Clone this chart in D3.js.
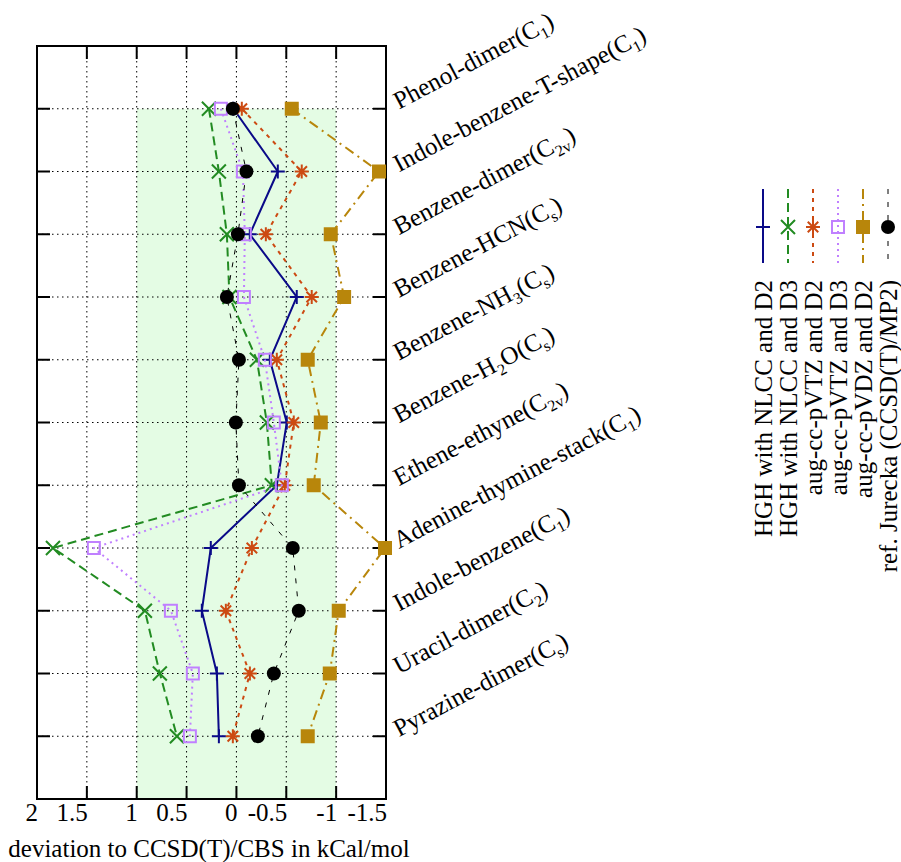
<!DOCTYPE html>
<html>
<head>
<meta charset="utf-8">
<script src="https://cdn.jsdelivr.net/npm/d3@7"></script>
<style>
  body { margin: 0; background: #fff; }
  svg { display: block; font-family: "Liberation Serif", "DejaVu Serif", serif; }
</style>
</head>
<body>
<svg id="chart" width="901" height="862"></svg>
<script>
// row labels, top to bottom; _{..} marks a subscript
const categories = [
    "Phenol-dimer(C_{1})",
    "Indole-benzene-T-shape(C_{1})",
    "Benzene-dimer(C_{2v})",
    "Benzene-HCN(C_{s})",
    "Benzene-NH_{3}(C_{s})",
    "Benzene-H_{2}O(C_{s})",
    "Ethene-ethyne(C_{2v})",
    "Adenine-thymine-stack(C_{1})",
    "Indole-benzene(C_{1})",
    "Uracil-dimer(C_{2})",
    "Pyrazine-dimer(C_{s})"
];

const hghD2   = [0.03, -0.415, -0.134, -0.605, -0.335, -0.505, -0.405, 0.257, 0.347, 0.196, 0.176];
const hghD3   = [0.276, 0.176, 0.096, 0.07, -0.205, -0.305, -0.355, 1.84, 0.918, 0.768, 0.597];
const tzD2    = [-0.054, -0.655, -0.295, -0.755, -0.405, -0.575, -0.485, -0.155, 0.106, -0.135, 0.036];
const tzD3    = [0.156, -0.065, -0.084, -0.075, -0.285, -0.375, -0.455, 1.43, 0.657, 0.437, 0.467];
const dzD2    = [-0.555, -1.43, -0.946, -1.08, -0.715, -0.846, -0.775, -1.49, -1.026, -0.936, -0.715];
const jurecka = [0.036, -0.10, -0.015, 0.096, -0.025, 0.006, -0.025, -0.565, -0.625, -0.375, -0.215];

const xTicks = [2, 1.5, 1, 0.5, 0, -0.5, -1, -1.5];
const band = [1, -1];

const seriesNames = [
    "HGH with NLCC and D2",
    "HGH with NLCC and D3",
    "aug-cc-pVTZ and D2",
    "aug-cc-pVTZ and D3",
    "aug-cc-pVDZ and D2",
    "ref. Jurecka (CCSD(T)/MP2)"
];

const series = [
    { name: seriesNames[0], values: hghD2,   color: "#0a0a88", dash: null,         width: 2,   marker: "plus" },
    { name: seriesNames[1], values: hghD3,   color: "#228b22", dash: "9,5",        width: 2,   marker: "cross" },
    { name: seriesNames[2], values: tzD2,    color: "#cc4a12", dash: "4,5",        width: 2,   marker: "star" },
    { name: seriesNames[3], values: tzD3,    color: "#c080ff", dash: "2,4",        width: 2,   marker: "box" },
    { name: seriesNames[4], values: dzD2,    color: "#b8860b", dash: "10,5,2,5",   width: 2,   marker: "fbox" },
    { name: seriesNames[5], values: jurecka, color: "#000000", dash: "5,8",        width: 1,   marker: "circle" }
];

const FONT = 25;
const SUB = 16;

const svg = d3.select("#chart");
const margin = { left: 37, right: 386, top: 46, bottom: 799 };

const x = d3.scaleLinear().domain([2, -1.5]).range([margin.left, margin.right]);
const y = d3.scaleLinear().domain([0, 12]).range([margin.top, margin.bottom]);
const rows = d3.range(1, categories.length + 1);

// light green band between +1 and -1
svg.append("rect")
    .attr("x", x(band[0]))
    .attr("y", y(1))
    .attr("width", x(band[1]) - x(band[0]))
    .attr("height", y(12) - y(1))
    .attr("fill", "#e4fce4");

// dotted grid
const grid = svg.append("g")
    .attr("stroke", "#000")
    .attr("stroke-width", 1)
    .attr("stroke-dasharray", "1.5,3.5");
xTicks.slice(1, -1).forEach(t => {
    grid.append("line")
        .attr("x1", x(t)).attr("x2", x(t))
        .attr("y1", margin.top).attr("y2", margin.bottom);
});
rows.forEach(r => {
    grid.append("line")
        .attr("x1", margin.left).attr("x2", margin.right)
        .attr("y1", y(r)).attr("y2", y(r));
});

// frame and inward ticks
const axes = svg.append("g").attr("stroke", "#000").attr("stroke-width", 2).attr("fill", "none");
axes.append("rect")
    .attr("x", margin.left).attr("y", margin.top)
    .attr("width", margin.right - margin.left)
    .attr("height", margin.bottom - margin.top);
const tickLen = 13;
xTicks.forEach(t => {
    axes.append("line").attr("x1", x(t)).attr("x2", x(t))
        .attr("y1", margin.bottom).attr("y2", margin.bottom - tickLen);
    axes.append("line").attr("x1", x(t)).attr("x2", x(t))
        .attr("y1", margin.top).attr("y2", margin.top + tickLen);
});
rows.forEach(r => {
    axes.append("line").attr("x1", margin.left).attr("x2", margin.left + tickLen)
        .attr("y1", y(r)).attr("y2", y(r));
    axes.append("line").attr("x1", margin.right).attr("x2", margin.right - tickLen)
        .attr("y1", y(r)).attr("y2", y(r));
});

// x tick labels, right-aligned on the tick
svg.append("g")
    .attr("font-size", FONT)
    .attr("text-anchor", "end")
    .selectAll("text")
    .data(xTicks)
    .join("text")
    .attr("x", d => x(d) + 1)
    .attr("y", 821)
    .text(d => String(d));

svg.append("text")
    .attr("x", 209)
    .attr("y", 857)
    .attr("font-size", FONT)
    .attr("text-anchor", "middle")
    .text("deviation to CCSD(T)/CBS in kCal/mol");

// text with _{sub} parts
function richText(sel, label) {
    const parts = label.split(/(_\{[^}]*\})/).filter(p => p.length);
    parts.forEach(p => {
        if (p.startsWith("_{")) {
            sel.append("tspan").attr("font-size", SUB).attr("dy", 6).text(p.slice(2, -1));
            sel.append("tspan").attr("font-size", FONT).attr("dy", -6).text("\u200b");
        } else {
            sel.append("tspan").text(p);
        }
    });
}

// rotated row labels
categories.forEach((c, i) => {
    const t = svg.append("text")
        .attr("font-size", FONT)
        .attr("transform", `translate(399,${y(i + 1) + 1}) rotate(-28)`);
    richText(t, c);
});

// marker shapes
function markerPath(type, cx, cy) {
    const s = 7;
    const p = d3.path();
    if (type === "plus" || type === "star") {
        p.moveTo(cx - s, cy); p.lineTo(cx + s, cy);
        p.moveTo(cx, cy - s); p.lineTo(cx, cy + s);
    }
    if (type === "cross" || type === "star") {
        const d = type === "star" ? s * 0.75 : s;
        p.moveTo(cx - d, cy - d); p.lineTo(cx + d, cy + d);
        p.moveTo(cx - d, cy + d); p.lineTo(cx + d, cy - d);
    }
    return p.toString();
}

function drawMarker(g, s, cx, cy) {
    if (s.marker === "box") {
        g.append("rect").attr("x", cx - 6).attr("y", cy - 6).attr("width", 12).attr("height", 12)
            .attr("fill", "none").attr("stroke", s.color).attr("stroke-width", 2);
    } else if (s.marker === "fbox") {
        g.append("rect").attr("x", cx - 7).attr("y", cy - 7).attr("width", 14).attr("height", 14)
            .attr("fill", s.color);
    } else if (s.marker === "circle") {
        g.append("circle").attr("cx", cx).attr("cy", cy).attr("r", 7).attr("fill", s.color);
    } else {
        g.append("path").attr("d", markerPath(s.marker, cx, cy))
            .attr("fill", "none").attr("stroke", s.color).attr("stroke-width", 2);
    }
}

const line = d3.line()
    .x(d => x(d.v))
    .y(d => y(d.r));

series.forEach(s => {
    const g = svg.append("g");
    const pts = s.values.map((v, i) => ({ v, r: i + 1 }));
    g.append("path")
        .attr("d", line(pts))
        .attr("fill", "none")
        .attr("stroke", s.color)
        .attr("stroke-width", s.width)
        .attr("stroke-dasharray", s.dash);
    pts.forEach(p => drawMarker(g, s, x(p.v), y(p.r)));
});

// legend, rotated
series.forEach((s, i) => {
    const cx = 763 + i * 25;
    const g = svg.append("g");
    g.append("line")
        .attr("x1", cx).attr("x2", cx)
        .attr("y1", 189).attr("y2", 263)
        .attr("stroke", s.color)
        .attr("stroke-width", s.width)
        .attr("stroke-dasharray", s.dash);
    drawMarker(g, s, cx, 227);
    g.append("text")
        .attr("font-size", FONT)
        .attr("text-anchor", "end")
        .attr("transform", `translate(${cx + 9},280) rotate(-90)`)
        .text(s.name);
});
</script>
</body>
</html>
